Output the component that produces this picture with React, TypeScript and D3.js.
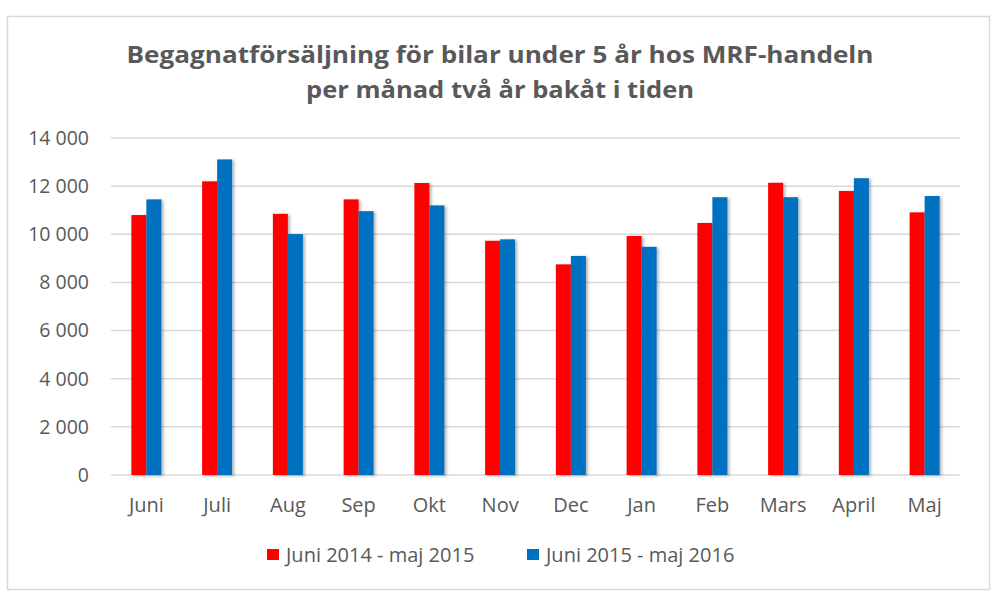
import React from "react";
import * as d3 from "d3";

// monthly used-car sales, two consecutive 12-month periods
const months = ["Juni", "Juli", "Aug", "Sep", "Okt", "Nov", "Dec", "Jan", "Feb", "Mars", "April", "Maj"];
const sales2014 = [10800, 12200, 10850, 11450, 12130, 9730, 8750, 9930, 10470, 12140, 11800, 10910];
const sales2015 = [11450, 13110, 10010, 10960, 11200, 9790, 9100, 9480, 11540, 11540, 12330, 11590];
const seriesNames = ["Juni 2014 - maj 2015", "Juni 2015 - maj 2016"];
const yTicks = [0, 2000, 4000, 6000, 8000, 10000, 12000, 14000];

const width = 1000,
  height = 611;
const margin = { top: 138, right: 40, bottom: 136, left: 111 };
const colors = ["#ff0000", "#0070c0"];
const font = "'Open Sans', Lato, sans-serif";
const textColor = "#595959";

const fmt = (v: number) => d3.format(",")(v).replace(/,/g, " ");

export default function App() {
  const x = d3
    .scaleBand()
    .domain(months)
    .range([margin.left, width - margin.right])
    .paddingInner(0.576)
    .paddingOuter(0.288);
  const x1 = d3.scaleBand().domain(["a", "b"]).range([0, x.bandwidth()]);
  const y = d3
    .scaleLinear()
    .domain([0, 14000])
    .range([height - margin.bottom, margin.top]);

  const series = [sales2014, sales2015];

  return (
    <svg
      width={width}
      height={height}
      style={{ position: "absolute", left: 0, top: 0, background: "#fff" }}
      fontFamily={font}
    >
      <defs>
        <filter id="shadow" x="-30%" y="-10%" width="160%" height="120%">
          <feDropShadow dx="2" dy="1" stdDeviation="1.5" floodColor="#000" floodOpacity="0.3" />
        </filter>
      </defs>
      <rect x={7.5} y={16.5} width={982} height={573} fill="#fff" stroke="#d9d9d9" strokeWidth={1.5} />

      <text
        x={500}
        y={63}
        textAnchor="middle"
        fontSize={23}
        fontWeight="bold"
        fill={textColor}
        textLength={747}
        lengthAdjust="spacingAndGlyphs"
      >
        Begagnatförsäljning för bilar under 5 år hos MRF-handeln
      </text>
      <text
        x={500}
        y={98}
        textAnchor="middle"
        fontSize={23}
        fontWeight="bold"
        fill={textColor}
        textLength={388}
        lengthAdjust="spacingAndGlyphs"
      >
        per månad två år bakåt i tiden
      </text>

      {yTicks.map(t => (
        <g key={t}>
          <line
            x1={margin.left}
            x2={width - margin.right}
            y1={y(t)}
            y2={y(t)}
            stroke="#d9d9d9"
            strokeWidth={1.5}
          />
          <text x={89} y={y(t)} dy="0.35em" textAnchor="end" fontSize={19.5} fill={textColor}>
            {fmt(t)}
          </text>
        </g>
      ))}

      {series.map((vals, si) =>
        vals.map((v, i) => (
          <rect
            key={si + "-" + i}
            x={(x(months[i]) as number) + (x1(si === 0 ? "a" : "b") as number)}
            y={y(v)}
            width={x1.bandwidth()}
            height={y(0) - y(v)}
            fill={colors[si]}
            filter="url(#shadow)"
          />
        ))
      )}

      {months.map(m => (
        <text
          key={m}
          x={(x(m) as number) + x.bandwidth() / 2}
          y={505}
          dy="0.35em"
          textAnchor="middle"
          fontSize={20}
          fill={textColor}
        >
          {m}
        </text>
      ))}

      {seriesNames.map((name, i) => (
        <g key={name} transform={`translate(${i === 0 ? 267 : 527},555)`}>
          <rect x={0} y={-6} width={12} height={11} fill={colors[i]} />
          <text x={19} y={0} dy="0.35em" fontSize={20} fill={textColor}>
            {name}
          </text>
        </g>
      ))}
    </svg>
  );
}
